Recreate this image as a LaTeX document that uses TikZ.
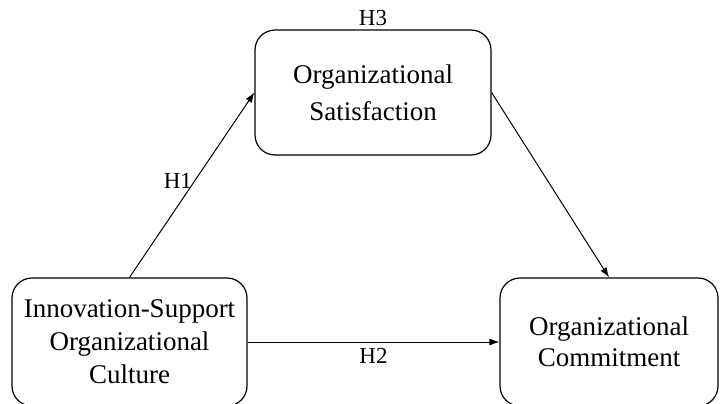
\documentclass[tikz,border=0pt]{standalone}
\usepackage{fontspec}
\setmainfont{Liberation Serif}
\usetikzlibrary{arrows.meta,positioning}

\begin{document}
\begin{tikzpicture}[
    x=0.5pt, y=-0.5pt,
    construct/.style={draw, rounded corners=10pt, line width=0.6pt, align=center,
        font=\fontsize{13.5}{16.5}\selectfont, inner sep=0pt},
    hypo/.style={-{Latex[length=5pt,width=3.6pt]}, line width=0.5pt},
    hlabel/.style={font=\fontsize{11.5}{13}\selectfont, inner sep=1pt},
]
  \useasboundingbox (0,0) rectangle (722,403);

  % Konstrukte
  \node[construct, minimum width=118pt, minimum height=62.5pt] (satisfaction) at (373,92.5)
    {Organizational\\[2pt]Satisfaction};
  \node[construct, minimum width=117.5pt, minimum height=64pt] (culture) at (129.5,342)
    {Innovation-Support\\Organizational\\Culture};
  \node[construct, minimum width=109pt, minimum height=64pt] (commitment) at (609,342)
    {Organizational\\[-1pt]Commitment};

  % Hypothesen
  \draw[hypo] (culture.north) -- node[hlabel, left, pos=0.52] {H1} (satisfaction.west);
  \draw[hypo] (culture.east) -- node[hlabel, below=2pt] {H2} (commitment.west);
  \draw[hypo] (satisfaction.east) -- (commitment.north);
  \node[hlabel, inner sep=0pt, above=1.5pt of satisfaction] (h3) {H3};
\end{tikzpicture}
\end{document}
